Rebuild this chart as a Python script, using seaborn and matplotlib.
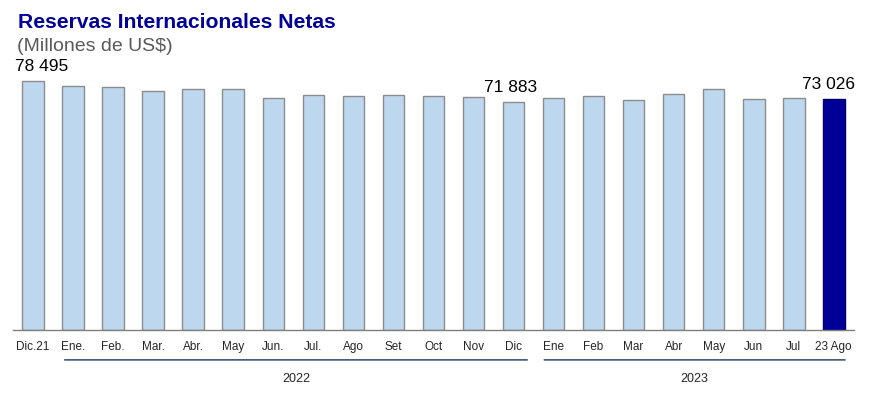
import matplotlib
matplotlib.use("Agg")
import matplotlib.pyplot as plt
import seaborn as sns
import pandas as pd

# Monthly net international reserves (millions of US$)
months = ["Dic.21", "Ene.", "Feb.", "Mar.", "Abr.", "May", "Jun.", "Jul.", "Ago",
          "Set", "Oct", "Nov", "Dic", "Ene", "Feb", "Mar", "Abr", "May", "Jun",
          "Jul", "23 Ago"]
reserves = [78495, 77030, 76810, 75450, 75990, 76080, 73240, 74090, 73870,
            74190, 73870, 73460, 71883, 73240, 73870, 72610, 74600, 76180,
            72830, 73240, 73026]
labelled = {0: "78 495", 12: "71 883", 20: "73 026"}
years = ["2022", "2023"]
year_spans = [(0.72, 12.41), (12.7, 20.35)]

sns.set_style("white")
plt.rcParams["font.family"] = ["Liberation Sans", "DejaVu Sans"]

df = pd.DataFrame({"month": range(len(months)), "value": reserves})
colors = ["#BDD7EE"] * (len(months) - 1) + ["#000099"]
edges = ["#8C8C8C"] * (len(months) - 1) + ["#00006B"]

fig = plt.figure(figsize=(8.73, 3.96), dpi=100)
ax = fig.add_axes([0.015, 0.1667, 0.963, 0.680])
sns.barplot(data=df, x="month", y="value", hue="month", palette=colors,
            legend=False, width=0.54, ax=ax, linewidth=1.0, saturation=1)
for patch, ec in zip(ax.patches, edges):
    patch.set_edgecolor(ec)

ax.set_ylim(0, 85000)
ax.set_xlim(-0.5, len(months) - 0.5)
ax.set_yticks([])
ax.set_xticks(range(len(months)))
ax.set_xticklabels(months, fontsize=8.5)
ax.tick_params(axis="x", length=0, pad=8)
ax.set_xlabel("")
ax.set_ylabel("")
for s in ["left", "right", "top"]:
    ax.spines[s].set_visible(False)
ax.spines["bottom"].set_color("#7F7F7F")
ax.spines["bottom"].set_linewidth(1.0)

# small horizontal nudges so the labels sit as in the original
nudge = {0: 6, 12: -2, 20: -4}
for i, txt in labelled.items():
    ax.annotate(txt, (i, reserves[i]), xytext=(nudge[i], 5),
                textcoords="offset points", ha="center", va="bottom",
                fontsize=12.5, color="black")

# year brackets below the month labels
for yr, (x0, x1) in zip(years, year_spans):
    ax.annotate("", xy=(x0, -0.111), xytext=(x1, -0.111),
                xycoords=("data", "axes fraction"),
                arrowprops=dict(arrowstyle="-", color="#44557A", lw=1.2))
    ax.text((x0 + x1) / 2, -0.182, yr, transform=ax.get_xaxis_transform(),
            ha="center", va="center", fontsize=9)

fig.text(0.021, 0.944, "Reservas Internacionales Netas", fontsize=15.2,
         fontweight="bold", color="#000099", va="center")
fig.text(0.019, 0.882, "(Millones de US$)", fontsize=14, color="#595959",
         va="center")

fig.savefig("out.png", dpi=100)
